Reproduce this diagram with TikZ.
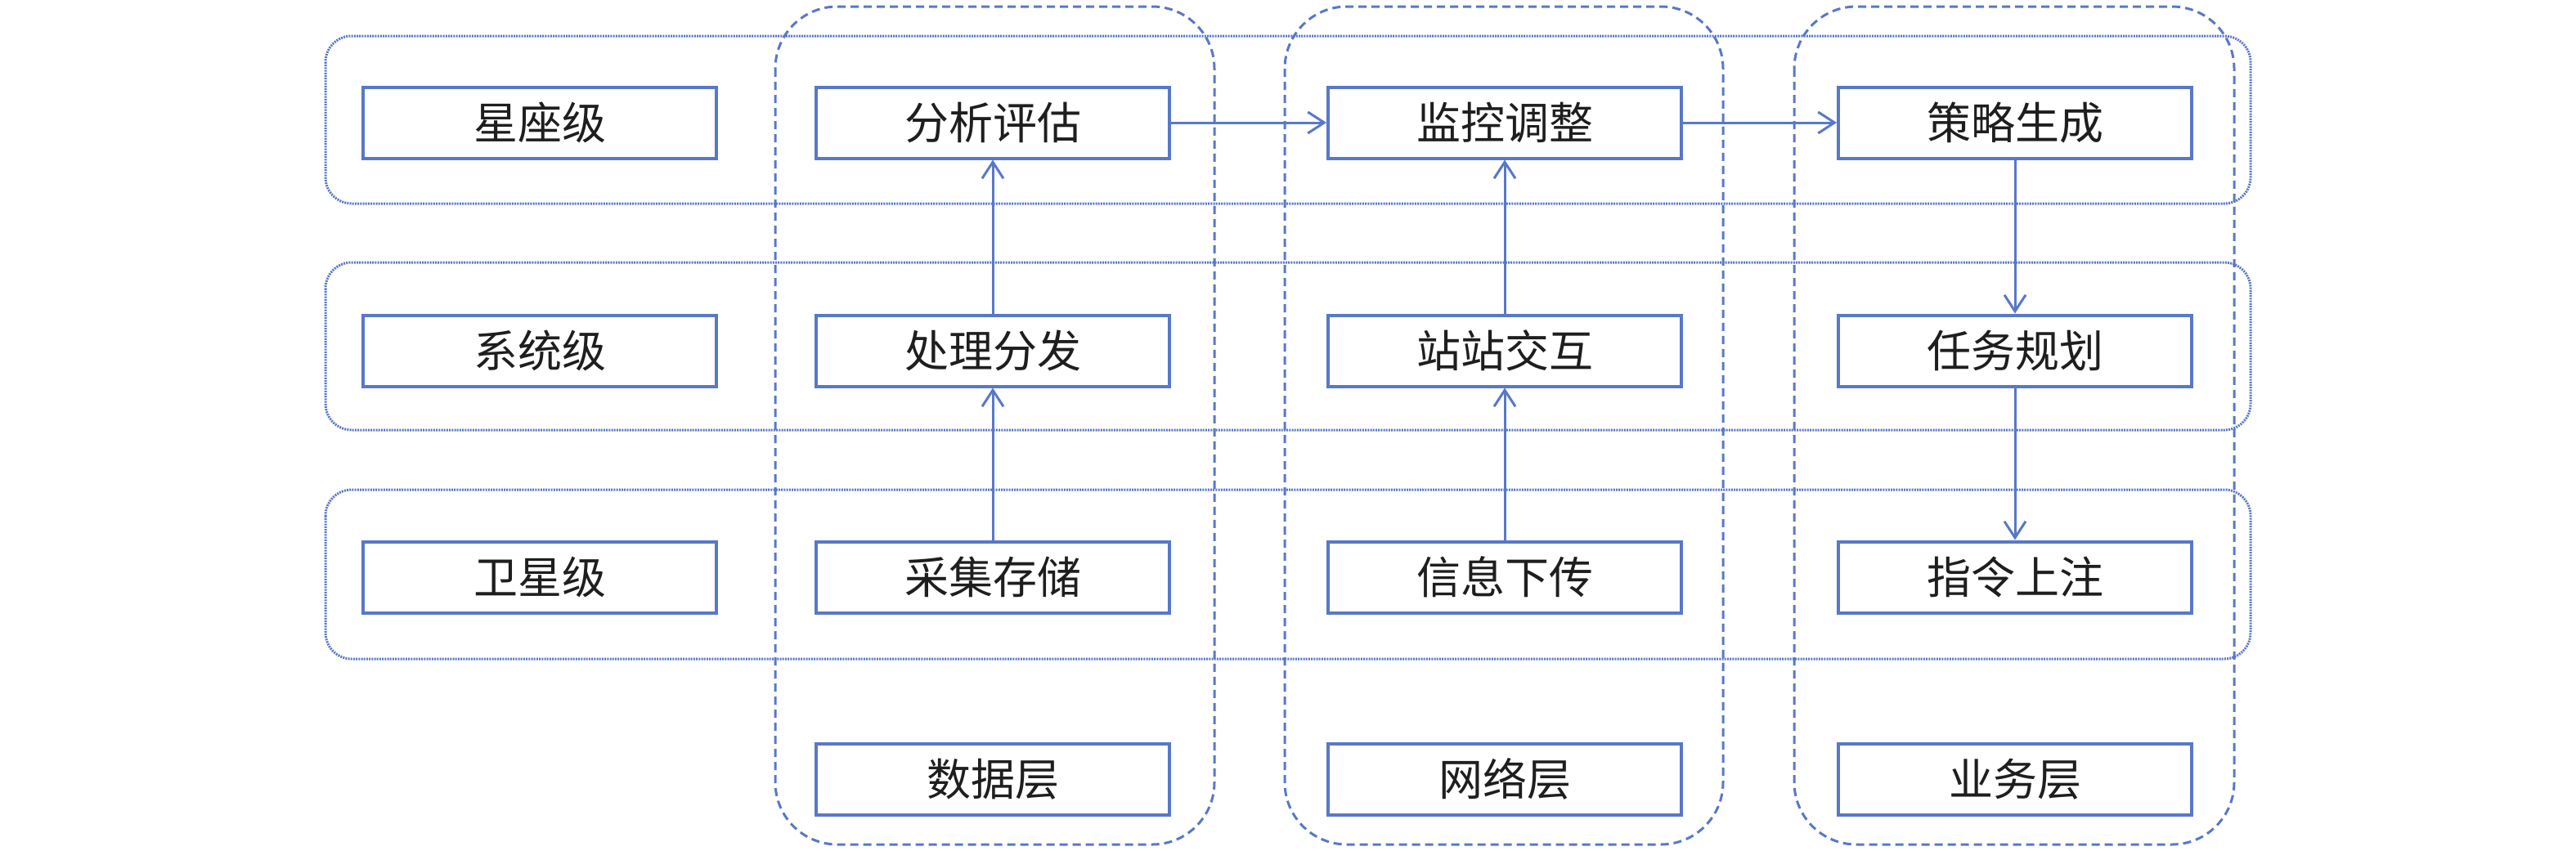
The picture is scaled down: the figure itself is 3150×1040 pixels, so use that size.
\documentclass[tikz,border=0pt]{standalone}
\usepackage{fontspec}
\newfontfamily\cjk{Noto Sans CJK SC}
\usetikzlibrary{arrows.meta}
\definecolor{bl}{RGB}{88,120,200}
\definecolor{txt}{RGB}{30,30,30}
\begin{document}
\begin{tikzpicture}[x=0.25pt,y=-0.25pt,
 box/.style={draw=bl,line width=1pt,fill=white,text=txt,minimum width=108pt,minimum height=21.75pt,inner sep=0pt,font=\cjk\fontsize{13.5pt}{15pt}\selectfont},
 rowgrp/.style={draw=bl,line width=0.75pt,dash pattern=on 0.5pt off 0.3pt,rounded corners=8pt},
 colgrp/.style={draw=bl,line width=0.75pt,dash pattern=on 2.5pt off 1.5pt,rounded corners=19pt},
 link/.style={draw=bl,line width=0.75pt,-{Straight Barb[length=5pt,width=6.5pt]}}]
\fill[white] (0,0) rectangle (3150,1040);
\useasboundingbox (0,0) rectangle (3150,1040);
% groups
\draw[rowgrp] (398,44) rectangle (2752,249);
\draw[rowgrp] (398,321) rectangle (2752,526);
\draw[rowgrp] (398,599) rectangle (2752,806);
\draw[colgrp] (948,8) rectangle (1485,1033);
\draw[colgrp] (1571,8) rectangle (2107,1033);
\draw[colgrp] (2194,8) rectangle (2732,1033);
% nodes
\node[box] (l1) at (660,150) {星座级};
\node[box] (l2) at (660,429) {系统级};
\node[box] (l3) at (660,706) {卫星级};
\node[box] (a1) at (1214,150) {分析评估};
\node[box] (a2) at (1214,429) {处理分发};
\node[box] (a3) at (1214,706) {采集存储};
\node[box] (a4) at (1214,953) {数据层};
\node[box] (b1) at (1840,150) {监控调整};
\node[box] (b2) at (1840,429) {站站交互};
\node[box] (b3) at (1840,706) {信息下传};
\node[box] (b4) at (1840,953) {网络层};
\node[box] (c1) at (2464,150) {策略生成};
\node[box] (c2) at (2464,429) {任务规划};
\node[box] (c3) at (2464,706) {指令上注};
\node[box] (c4) at (2464,953) {业务层};
% links
\draw[link] (a3) -- (a2);
\draw[link] (a2) -- (a1);
\draw[link] (a1) -- (b1);
\draw[link] (b3) -- (b2);
\draw[link] (b2) -- (b1);
\draw[link] (b1) -- (c1);
\draw[link] (c1) -- (c2);
\draw[link] (c2) -- (c3);
\end{tikzpicture}
\end{document}
